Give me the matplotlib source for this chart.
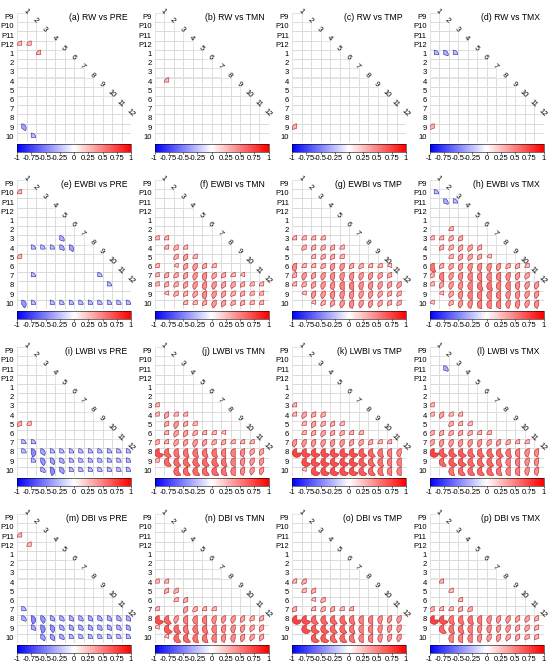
import matplotlib
matplotlib.use('Agg')
import matplotlib.pyplot as plt
import matplotlib as mpl
from matplotlib.patches import Wedge, Rectangle
from matplotlib.colors import LinearSegmentedColormap, Normalize

mpl.rcParams['font.family'] = ['Liberation Sans', 'DejaVu Sans']

row_labels = ['P9', 'P10', 'P11', 'P12', '1', '2', '3', '4', '5', '6', '7', '8', '9', '10']
col_labels = [str(i) for i in range(1, 13)]
cbar_ticks = [-1, -0.75, -0.5, -0.25, 0, 0.25, 0.5, 0.75, 1]
cbar_ticklabels = ['-1', '-0.75', '-0.5', '-0.25', '0', '0.25', '0.5', '0.75', '1']

titles = ['(a) RW vs PRE', '(b) RW vs TMN', '(c) RW vs TMP', '(d) RW vs TMX',
          '(e) EWBI vs PRE', '(f) EWBI vs TMN', '(g) EWBI vs TMP', '(h) EWBI vs TMX',
          '(i) LWBI vs PRE', '(j) LWBI vs TMN', '(k) LWBI vs TMP', '(l) LWBI vs TMX',
          '(m) DBI vs PRE', '(n) DBI vs TMN', '(o) DBI vs TMP', '(p) DBI vs TMX']

# significant correlations: "row: col=value ..."
rw_pre = ["P12: 1=.25 2=.25", "1: 3=.25", "9: 1=-.35", "10: 2=-.25"]
rw_tmn = ["4: 2=.25"]
rw_tmp = ["9: 1=.3"]
rw_tmx = ["1: 1=-.25 2=-.3 3=-.25", "9: 1=.3"]

ewbi_pre = ["P10: 1=.25", "3: 5=-.3", "4: 2=-.25 3=-.25 4=-.25 5=-.3 6=-.35", "5: 1=.25",
            "7: 2=-.25 9=-.25", "8: 10=-.25",
            "10: 1=-.4 2=-.25 4=-.25 5=-.25 6=-.25 7=-.25 8=-.25 9=-.25 10=-.25 11=-.25 12=-.25"]
ewbi_tmn = ["3: 1=.25 2=.25", "4: 2=.25 3=.3 4=.25", "5: 3=.3 4=.35 5=.25",
            "6: 1=.25 3=.2 4=.35 5=.4 6=.3 7=.25",
            "7: 1=.25 2=.3 3=.3 4=.35 5=.4 6=.45 7=.35 8=.3 9=.25 10=.2",
            "8: 1=.25 2=.3 3=.3 4=.35 5=.4 6=.45 7=.4 8=.35 9=.35 10=.3 11=.25 12=.25",
            "9: 2=.2 3=.3 4=.3 5=.35 6=.45 7=.4 8=.35 9=.3 10=.3 11=.25 12=.25",
            "10: 4=.25 5=.25 6=.3 7=.4 8=.35 9=.3 10=.3 11=.25 12=.25"]
ewbi_tmp = ["3: 1=.25 2=.25 3=.25 4=.25", "4: 2=.3 3=.3 4=.3 5=.3 6=.25", "5: 3=.25 4=.3 5=.3 6=.25",
            "6: 1=.45 2=.25 3=.25 4=.3 5=.4 6=.4 7=.3 8=.3 9=.25 10=.25 11=.2",
            "7: 1=.3 2=.4 3=.35 4=.4 5=.45 6=.45 7=.45 8=.4 9=.4 10=.35 11=.3",
            "8: 1=.25 2=.3 3=.35 4=.4 5=.45 6=.5 7=.5 8=.45 9=.45 10=.4 11=.35 12=.35",
            "9: 2=.2 3=.4 4=.4 5=.45 6=.45 7=.45 8=.4 9=.4 10=.35 11=.3 12=.3",
            "10: 3=.2 4=.3 5=.35 6=.4 7=.45 8=.4 9=.4 10=.35 11=.3 12=.3"]
ewbi_tmx = ["P10: 1=-.25", "P11: 2=-.3 3=-.25", "2: 3=.25", "3: 1=.25 2=.25 3=.3 4=.3",
            "4: 2=.3 3=.3 4=.35 5=.35 6=.3", "5: 3=.25 4=.35 5=.35 6=.3 7=.2",
            "6: 1=.55 2=.3 3=.35 4=.4 5=.45 6=.45 7=.45 8=.4 9=.3 10=.3 11=.25",
            "7: 1=.3 2=.5 3=.4 4=.45 5=.5 6=.5 7=.5 8=.5 9=.45 10=.4 11=.35",
            "8: 1=.25 2=.35 3=.4 4=.45 5=.5 6=.55 7=.55 8=.5 9=.5 10=.45 11=.4 12=.4",
            "9: 2=.2 3=.35 4=.45 5=.5 6=.5 7=.5 8=.5 9=.45 10=.45 11=.4 12=.4",
            "10: 1=.2 3=.3 4=.4 5=.45 6=.5 7=.5 8=.5 9=.45 10=.45 11=.4 12=.45"]

lwbi_pre = ["5: 1=.3 2=.25", "7: 1=-.25 2=-.25",
            "8: 1=-.25 2=-.45 3=-.35 4=-.25 5=-.25 6=-.25 7=-.25 8=-.25 9=-.25 10=-.25 11=-.25 12=-.25",
            "9: 2=-.25 3=-.4 4=-.35 5=-.3 6=-.25 7=-.25 8=-.25 9=-.25 10=-.25 11=-.25 12=-.25",
            "10: 3=-.3 4=-.45 5=-.35 6=-.25 7=-.25 8=-.25 9=-.25 10=-.25 11=-.25 12=-.25"]
lwbi_tmn = ["3: 1=.25", "4: 1=.25 2=.35 3=.25 4=.25", "5: 2=.3 3=.4 4=.3 5=.25",
            "6: 2=.25 3=.35 4=.35 5=.3 6=.25 7=.25 8=.2",
            "7: 1=.3 2=.25 3=.35 4=.35 5=.4 6=.35 7=.3 8=.3 9=.25 10=.25 11=.25",
            "8: 1=.7 2=.6 3=.55 4=.55 5=.55 6=.55 7=.55 8=.5 9=.5 10=.45 11=.35 12=.35",
            "9: 1=.25 2=.6 3=.6 4=.6 5=.6 6=.6 7=.6 8=.55 9=.5 10=.45 11=.4 12=.4",
            "10: 3=.6 4=.6 5=.6 6=.6 7=.6 8=.55 9=.5 10=.45 11=.4 12=.4"]
lwbi_tmp = ["3: 1=.25", "4: 1=.25 2=.35 3=.3 4=.3", "5: 2=.25 3=.35 4=.3 5=.3 6=.25",
            "6: 2=.25 3=.3 4=.35 5=.3 6=.3 7=.25 8=.25",
            "7: 1=.4 2=.4 3=.4 4=.4 5=.4 6=.4 7=.35 8=.35 9=.3 10=.25 11=.25",
            "8: 1=.75 2=.7 3=.7 4=.7 5=.7 6=.7 7=.7 8=.65 9=.6 10=.55 11=.5 12=.45",
            "9: 2=.7 3=.7 4=.7 5=.7 6=.7 7=.7 8=.65 9=.6 10=.55 11=.5 12=.5",
            "10: 2=.2 3=.7 4=.7 5=.7 6=.7 7=.7 8=.65 9=.6 10=.55 11=.5 12=.5"]
lwbi_tmx = ["P11: 2=-.3", "3: 1=.25", "4: 1=.25 2=.35 3=.25 4=.25", "5: 3=.3 4=.25 5=.25",
            "6: 1=.3 2=.3 3=.3 4=.3 5=.3 6=.25 7=.25",
            "7: 1=.35 2=.4 3=.4 4=.4 5=.4 6=.4 7=.35 8=.35 9=.3 10=.25 11=.25",
            "8: 1=.75 2=.65 3=.65 4=.65 5=.6 6=.6 7=.6 8=.6 9=.55 10=.5 11=.45 12=.45",
            "9: 2=.6 3=.65 4=.65 5=.6 6=.6 7=.6 8=.55 9=.5 10=.5 11=.45 12=.45",
            "10: 3=.55 4=.6 5=.6 6=.6 7=.6 8=.55 9=.5 10=.5 11=.45 12=.45"]

dbi_pre = ["P11: 1=.25", "P12: 2=.25", "7: 1=-.25",
           "8: 1=-.3 2=-.45 3=-.4 4=-.3 5=-.3 6=-.3 7=-.3 8=-.3 9=-.3 10=-.3 11=-.3 12=-.3",
           "9: 2=-.3 3=-.45 4=-.4 5=-.3 6=-.3 7=-.3 8=-.3 9=-.3 10=-.3 11=-.3 12=-.3",
           "10: 3=-.35 4=-.35 5=-.3 6=-.25 7=-.25 8=-.25 9=-.25 10=-.25 11=-.25 12=-.25"]
dbi_tmn = ["4: 1=.25 2=.25", "5: 2=.3 3=.3", "6: 3=.25 4=.3", "7: 1=.25 4=.35 5=.3 6=.25 7=.25",
           "8: 1=.7 2=.6 3=.4 4=.5 5=.5 6=.5 7=.45 8=.4 9=.4 10=.35 11=.3 12=.3",
           "9: 1=.2 2=.65 3=.6 4=.55 5=.55 6=.55 7=.5 8=.45 9=.45 10=.4 11=.35 12=.35",
           "10: 2=.2 3=.6 4=.6 5=.55 6=.55 7=.5 8=.45 9=.45 10=.4 11=.35 12=.35"]
dbi_tmp = ["4: 1=.25 2=.3", "5: 2=.25 3=.3", "6: 3=.2 4=.3", "7: 1=.3 3=.25 4=.3 5=.3 6=.25 7=.25",
           "8: 1=.75 2=.7 3=.6 4=.6 5=.6 6=.6 7=.55 8=.5 9=.5 10=.45 11=.4 12=.4",
           "9: 2=.7 3=.65 4=.65 5=.6 6=.6 7=.55 8=.5 9=.5 10=.45 11=.4 12=.4",
           "10: 3=.65 4=.65 5=.6 6=.6 7=.55 8=.5 9=.5 10=.45 11=.4 12=.4"]
dbi_tmx = ["4: 2=.25", "5: 3=.25", "6: 4=.25", "7: 1=.3 2=.25 3=.25 4=.3 5=.3",
           "8: 1=.75 2=.7 3=.55 4=.55 5=.55 6=.5 7=.45 8=.4 9=.4 10=.35 11=.35 12=.3",
           "9: 2=.6 3=.55 4=.55 5=.5 6=.45 7=.45 8=.4 9=.4 10=.35 11=.35 12=.3",
           "10: 3=.5 4=.5 5=.5 6=.45 7=.4 8=.4 9=.35 10=.35 11=.3 12=.3"]

panels = [rw_pre, rw_tmn, rw_tmp, rw_tmx, ewbi_pre, ewbi_tmn, ewbi_tmp, ewbi_tmx,
          lwbi_pre, lwbi_tmn, lwbi_tmp, lwbi_tmx, dbi_pre, dbi_tmn, dbi_tmp, dbi_tmx]

cmap = LinearSegmentedColormap.from_list('bwr2', ['#0000ff', '#ffffff', '#ff0000'])
norm = Normalize(-1, 1)

W, H = 550, 667
fig = plt.figure(figsize=(W / 100, H / 100), dpi=100)


def parse(rows):
    out = []
    for line in rows:
        lab, rest = line.split(':')
        r = row_labels.index(lab.strip())
        for tok in rest.split():
            c, v = tok.split('=')
            out.append((r, int(c) - 1, float(v)))
    return out


for k, (title, rows) in enumerate(zip(titles, panels)):
    pr, pc = divmod(k, 4)
    left = 17 + 137.5 * pc
    top = 13 + 167 * pr
    gw, gh = 114, 129
    ax = fig.add_axes([left / W, 1 - (top + gh) / H, gw / W, gh / H])
    ax.set_xlim(0, 12)
    ax.set_ylim(14, 0)
    ax.axis('off')

    for r in range(14):
        for c in range(min(r + 1, 12)):
            ax.add_patch(Rectangle((c, r), 1, 1, fill=False, ec='#d9d9d9', lw=0.5))
        ax.text(-0.3, r + 0.5, row_labels[r], ha='right', va='center', fontsize=5.5)
    for j in range(12):
        ax.text(j + 0.9, j - 0.2, col_labels[j], ha='center', va='center',
                rotation=-45, fontsize=5.5)

    for r, c, v in parse(rows):
        cx, cy = c + 0.5, r + 0.5
        # y axis is inverted: positive runs counterclockwise from the top on screen
        if v > 0:
            t1, t2 = 270 - 360 * v, 270
            ec = '#b03030'
        else:
            t1, t2 = 270, 270 + 360 * (-v)
            ec = '#3030b0'
        ax.add_patch(Wedge((cx, cy), 0.47, t1, t2, fc=cmap(norm(v)), ec=ec, lw=0.45))

    ax.text(11.6, 0.5, title, ha='right', va='center', fontsize=6.2)

    cax = fig.add_axes([left / W, 1 - (top + gh + 10) / H, gw / W, 8 / H])
    cb = mpl.colorbar.ColorbarBase(cax, cmap=cmap, norm=norm, orientation='horizontal')
    cb.set_ticks(cbar_ticks)
    cb.set_ticklabels(cbar_ticklabels)
    cb.outline.set_linewidth(0.4)
    cax.tick_params(labelsize=5.5, length=1.5, width=0.4, pad=1)

fig.savefig('out.png', dpi=100)
